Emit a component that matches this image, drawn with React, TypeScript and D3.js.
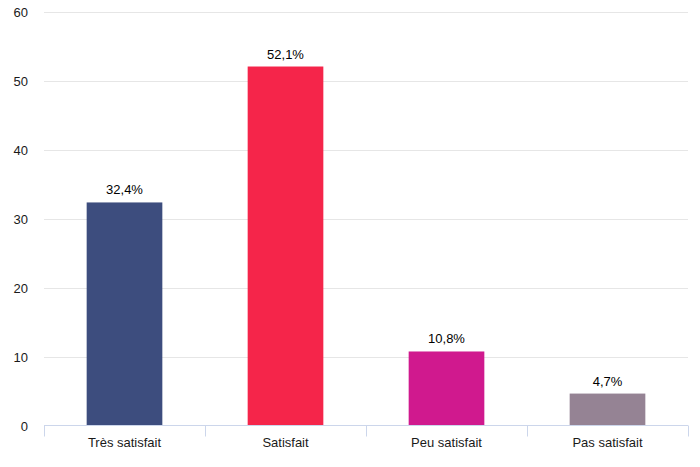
import React, { useEffect, useRef } from "react";
import * as d3 from "d3";

const categories = ["Très satisfait", "Satisfait", "Peu satisfait", "Pas satisfait"];
const values = [32.4, 52.1, 10.8, 4.7];
const colors = ["#3d4d7e", "#f5254a", "#d0198e", "#958394"];
const yTicks = [0, 10, 20, 30, 40, 50, 60];

const W = 700;
const H = 467;
const margin = { top: 12, right: 12, bottom: 41, left: 44 };

export default function App() {
  const svgRef = useRef<SVGSVGElement>(null);

  useEffect(() => {
    if (!svgRef.current) return;
    const svg = d3.select(svgRef.current);
    svg.selectAll("*").remove();

    const x = d3
      .scaleBand()
      .domain(categories)
      .range([margin.left, W - margin.right])
      .paddingInner(0)
      .paddingOuter(0);
    const y = d3.scaleLinear().domain([0, 60]).range([H - margin.bottom, margin.top]);

    const font = "'Liberation Sans', Arial, sans-serif";

    // gridlines
    svg
      .append("g")
      .selectAll("line")
      .data(yTicks.filter((t) => t > 0))
      .join("line")
      .attr("x1", margin.left)
      .attr("x2", W - margin.right)
      .attr("y1", (d) => Math.round(y(d)) + 0.5)
      .attr("y2", (d) => Math.round(y(d)) + 0.5)
      .attr("stroke", "#e6e6e6")
      .attr("stroke-width", 1);

    // y labels
    svg
      .append("g")
      .selectAll("text")
      .data(yTicks)
      .join("text")
      .attr("x", 28)
      .attr("y", (d) => y(d) + 5)
      .attr("text-anchor", "end")
      .attr("font-family", font)
      .attr("font-size", 13)
      .attr("fill", "#1a1a1a")
      .text((d) => d);

    // bars
    const bw = x.bandwidth() * 0.47;
    svg
      .append("g")
      .selectAll("rect")
      .data(values)
      .join("rect")
      .attr("x", (d, i) => x(categories[i])! + (x.bandwidth() - bw) / 2)
      .attr("y", (d) => y(d))
      .attr("width", bw)
      .attr("height", (d) => y(0) - y(d))
      .attr("fill", (d, i) => colors[i]);

    // value labels
    svg
      .append("g")
      .selectAll("text")
      .data(values)
      .join("text")
      .attr("x", (d, i) => x(categories[i])! + x.bandwidth() / 2)
      .attr("y", (d) => y(d) - 8)
      .attr("text-anchor", "middle")
      .attr("font-family", font)
      .attr("font-size", 13)
      .attr("fill", "#000")
      .text((d) => d.toFixed(1).replace(".", ",") + "%");

    // x axis line
    const y0 = Math.round(y(0)) - 0.5;
    svg
      .append("line")
      .attr("x1", margin.left)
      .attr("x2", W - margin.right)
      .attr("y1", y0)
      .attr("y2", y0)
      .attr("stroke", "#ccd6eb");

    // tick marks at category boundaries
    const bounds = categories.map((c) => x(c)!).concat([W - margin.right]);
    svg
      .append("g")
      .selectAll("line")
      .data(bounds)
      .join("line")
      .attr("x1", (d) => Math.round(d) + 0.5)
      .attr("x2", (d) => Math.round(d) + 0.5)
      .attr("y1", y0)
      .attr("y2", y0 + 11)
      .attr("stroke", "#ccd6eb");

    // category labels
    svg
      .append("g")
      .selectAll("text")
      .data(categories)
      .join("text")
      .attr("x", (d) => x(d)! + x.bandwidth() / 2)
      .attr("y", y0 + 21)
      .attr("text-anchor", "middle")
      .attr("font-family", font)
      .attr("font-size", 13)
      .attr("fill", "#1a1a1a")
      .text((d) => d);
  }, []);

  return (
    <svg
      ref={svgRef}
      width={W}
      height={H}
      style={{ position: "absolute", left: 0, top: 0, background: "#fff" }}
    />
  );
}
